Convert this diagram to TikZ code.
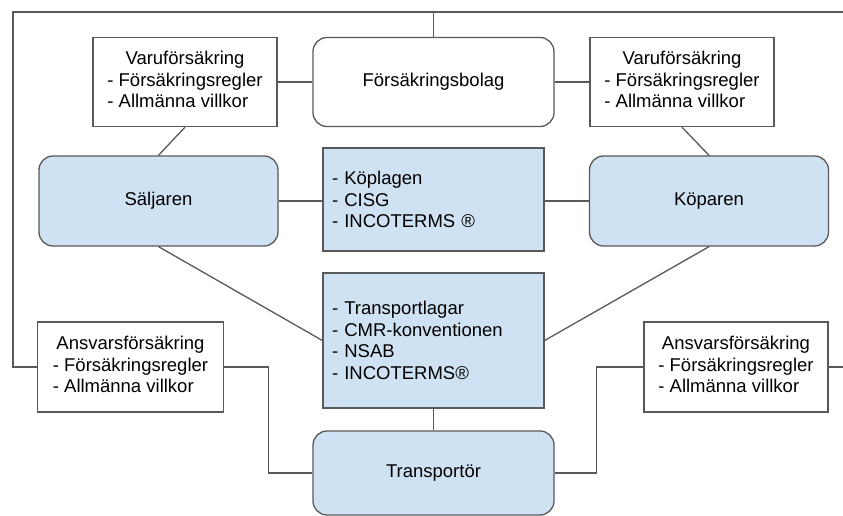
\documentclass[tikz,border=0pt]{standalone}
\usepackage{fontspec}
\setmainfont{Liberation Sans}
\usepackage{tikz}
\usetikzlibrary{positioning,calc}
\definecolor{Edge}{HTML}{595959}
\definecolor{PaleBlue}{HTML}{CFE2F3}
\newcommand{\diafont}{\fontsize{18.5}{21.5}\selectfont}
\newcommand{\polcell}[1]{\begin{tabular}{@{}l@{}}\multicolumn{1}{@{}c@{}}{#1}\\- Försäkringsregler\\- Allmänna villkor\end{tabular}}
\tikzset{
  insbox/.style={draw=Edge, line width=1.3pt, fill=white, align=center, inner sep=0pt, minimum width=184pt, minimum height=89pt, font=\diafont},
  partybox/.style={draw=Edge, line width=1.3pt, rounded corners=14pt, fill=PaleBlue, align=center, minimum width=239pt, minimum height=90pt, font=\diafont},
  lawbox/.style={draw=Edge, line width=1.3pt, fill=PaleBlue, align=left, inner sep=9pt, text width=203pt, font=\diafont},
  link/.style={draw=Edge, line width=1.3pt}
}
\begin{document}
\begin{tikzpicture}[x=1pt,y=-1pt]
  \clip (0,0) rectangle (843,516);
  \fill[white] (0,0) rectangle (843,516);
  \node[insbox] (varL) at (185,82) {\polcell{Varuförsäkring}};
  \node[partybox, fill=white, minimum width=241pt, minimum height=89pt] (bolag) at (433.5,82) {Försäkringsbolag};
  \node[insbox] (varR) at (682,82) {\polcell{Varuförsäkring}};
  \node[partybox] (saljare) at (158.5,201) {Säljaren};
  \node[lawbox, minimum height=103pt] (kop) at (433.5,199.5) {- Köplagen\\- CISG\\- INCOTERMS ®};
  \node[partybox] (kopare) at (709,201) {Köparen};
  \node[lawbox, minimum height=135pt] (transp) at (433.5,340.5) {- Transportlagar\\- CMR-konventionen\\- NSAB\\- INCOTERMS®};
  \node[insbox, minimum width=186pt, minimum height=90pt] (ansL) at (130.5,367) {\polcell{Ansvarsförsäkring}};
  \node[insbox, minimum height=90pt] (ansR) at (736,367) {\polcell{Ansvarsförsäkring}};
  \node[partybox, minimum width=241pt, minimum height=84pt] (transportor) at (433.5,473) {Transportör};
  \coordinate (topleft) at (13,12);
  \coordinate (topright) at (900,12);
  \draw[link] (varL) -- (bolag);
  \draw[link] (bolag) -- (varR);
  \draw[link] (varL.south) -- (saljare.north);
  \draw[link] (varR.south) -- (kopare.north);
  \draw[link] (saljare.east) -- (saljare.east -| kop.west);
  \draw[link] (kopare.west) -- (kopare.west -| kop.east);
  \draw[link] (saljare.south) -- (transp.west);
  \draw[link] (kopare.south) -- (transp.east);
  \draw[link] (transp) -- (transportor);
  \draw[link] (ansL.east) -- ++(44,0) |- (transportor.west);
  \draw[link] (ansR.west) -- ++(-47,0) |- (transportor.east);
  \draw[link] (ansL.west) -| (topleft) -| (bolag.north);
  \draw[link] (ansR.east) -| (topright) -| (bolag.north);
\end{tikzpicture}
\end{document}
